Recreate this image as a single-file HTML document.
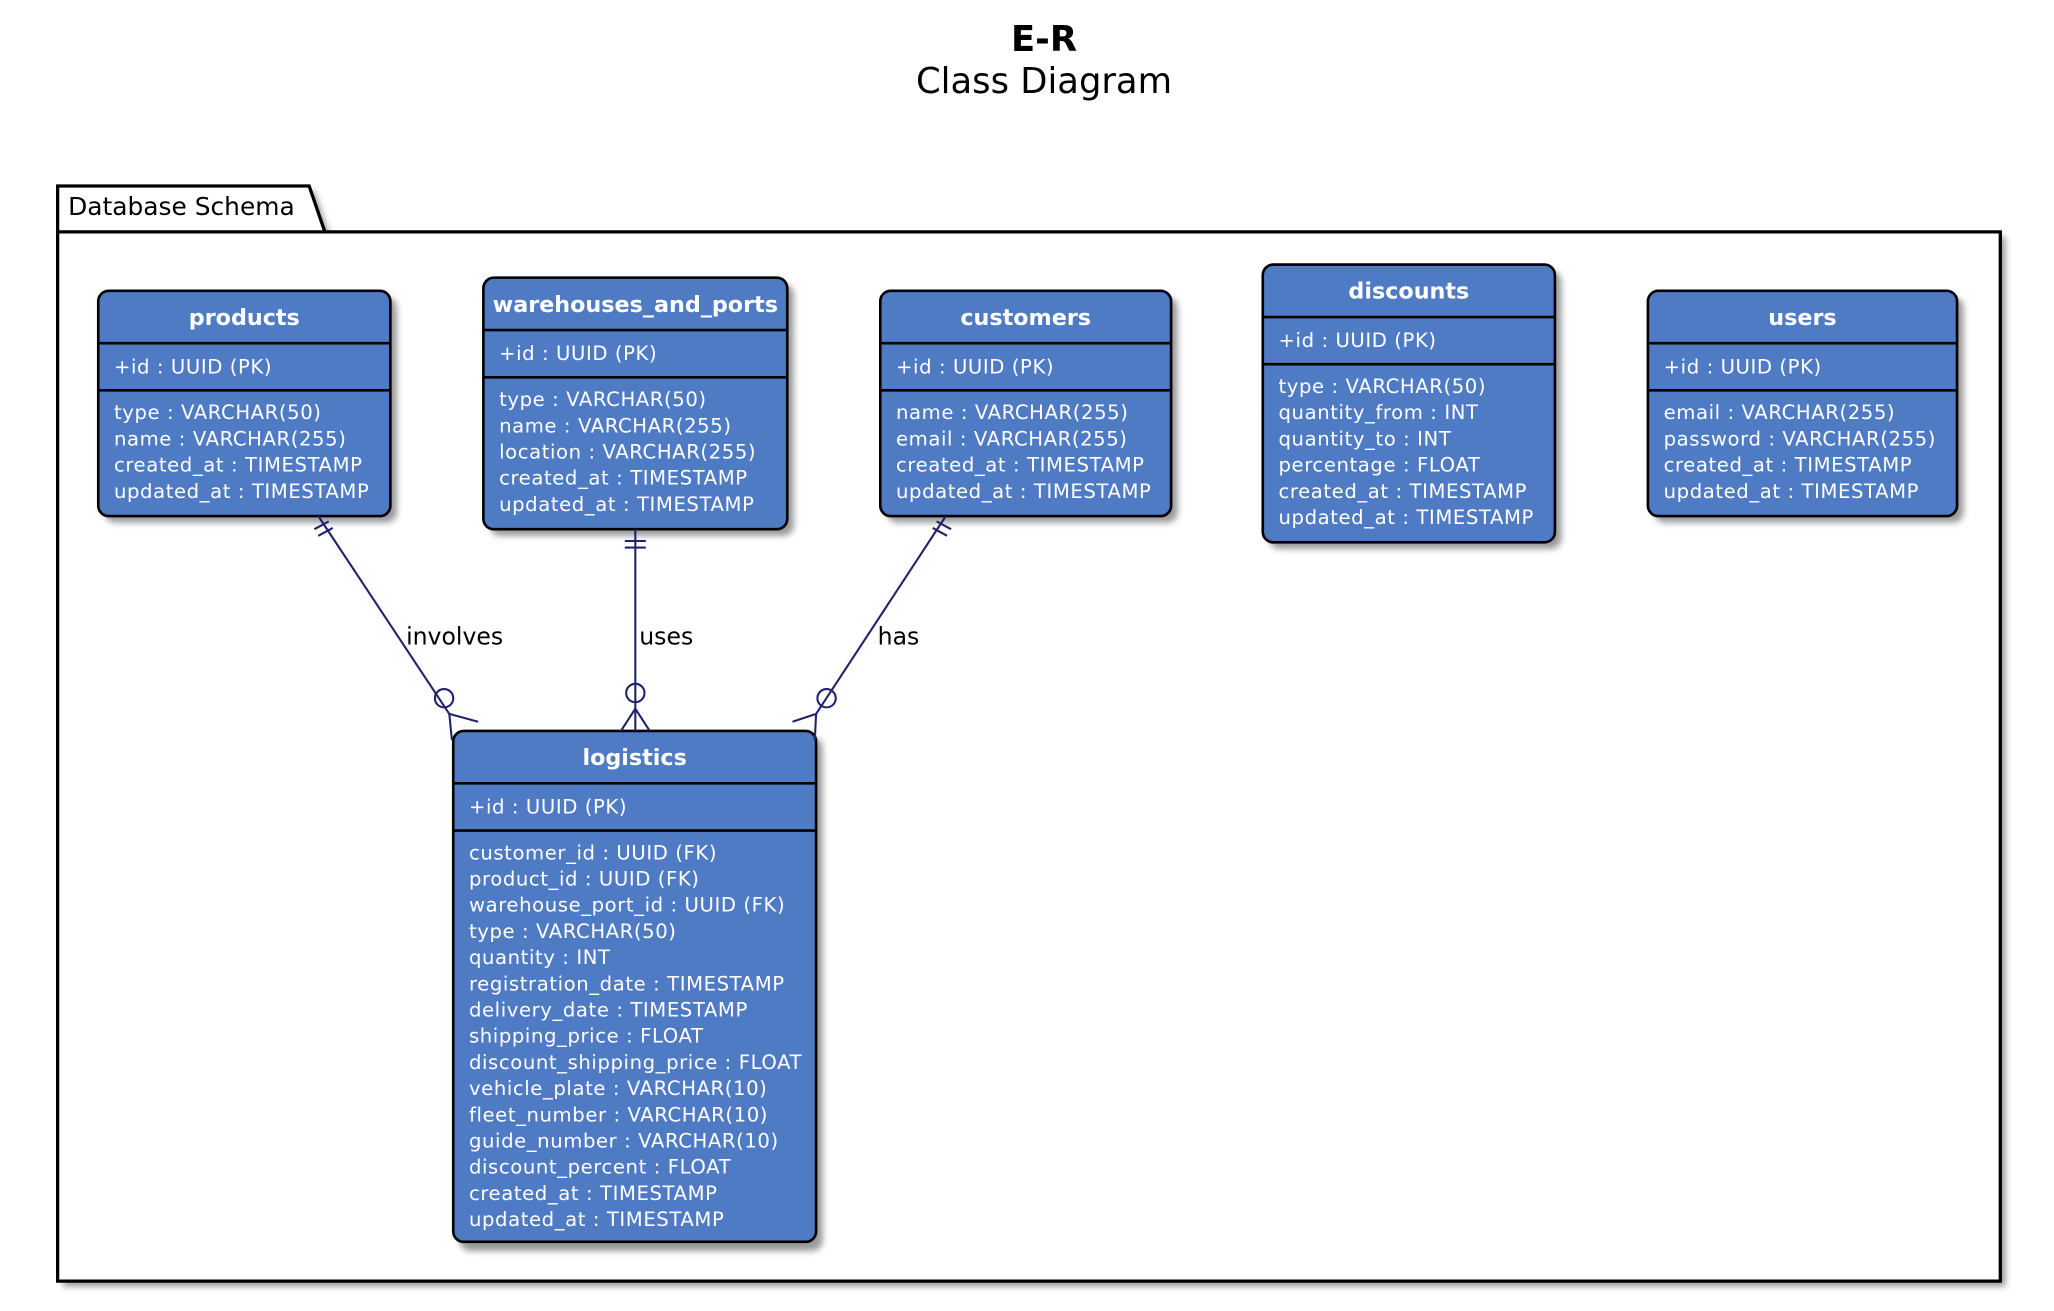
<!DOCTYPE html>
<html><head><meta charset="utf-8"><style>
html,body{margin:0;padding:0;background:#fff;}
svg{display:block;}
text{font-family:"DejaVu Sans","Liberation Sans",sans-serif;}
.t{fill:#fff;font-weight:bold;font-size:17px;text-anchor:middle;}
.a{fill:#fff;font-size:15px;letter-spacing:0.45px;}
.b{fill:#4F7BC5;stroke:#000;stroke-width:2;}
.l{stroke:#000;stroke-width:2;}
.c{stroke:#22226a;stroke-width:1.6;fill:none;}
.lbl{font-size:18px;fill:#000;}
</style></head><body>
<svg width="2054" height="1311" viewBox="0 0 1568 1000.8" preserveAspectRatio="xMinYMin meet" xmlns="http://www.w3.org/2000/svg">
<defs><filter id="sh" x="-10%" y="-10%" width="130%" height="130%"><feGaussianBlur stdDeviation="2.5"/></filter></defs>
<text x="797" y="39" text-anchor="middle" style="font-size:27px;font-weight:bold">E-R</text>
<text x="797" y="71" text-anchor="middle" style="font-size:27px">Class Diagram</text>

<path d="M48 146 L240 146 L252 181 L1531 181 L1531 982 L48 982 Z" fill="#999" filter="url(#sh)"/>
<path d="M44 142 L236 142 L248 177 L1527 177 L1527 978 L44 978 Z" fill="#fff" stroke="#000" stroke-width="2.5"/>
<line x1="44" y1="177" x2="248" y2="177" stroke="#000" stroke-width="2.5"/>
<text x="52" y="164" style="font-size:19px">Database Schema</text>

<rect x="80" y="227" width="223" height="172" rx="8" fill="#999" filter="url(#sh)"/>
<rect class="b" x="75" y="222" width="223" height="172" rx="8"/>
<line class="l" x1="75" y1="262" x2="298" y2="262"/><line class="l" x1="75" y1="298" x2="298" y2="298"/>
<text class="t" x="186.5" y="248">products</text>
<text class="a" x="87" y="285">+id : UUID (PK)</text>
<text class="a" x="87" y="320">type : VARCHAR(50)</text>
<text class="a" x="87" y="340">name : VARCHAR(255)</text>
<text class="a" x="87" y="360">created_at : TIMESTAMP</text>
<text class="a" x="87" y="380">updated_at : TIMESTAMP</text>

<rect x="374" y="217" width="232" height="192" rx="8" fill="#999" filter="url(#sh)"/>
<rect class="b" x="369" y="212" width="232" height="192" rx="8"/>
<line class="l" x1="369" y1="252" x2="601" y2="252"/><line class="l" x1="369" y1="288" x2="601" y2="288"/>
<text class="t" x="485" y="238">warehouses_and_ports</text>
<text class="a" x="381" y="275">+id : UUID (PK)</text>
<text class="a" x="381" y="310">type : VARCHAR(50)</text>
<text class="a" x="381" y="330">name : VARCHAR(255)</text>
<text class="a" x="381" y="350">location : VARCHAR(255)</text>
<text class="a" x="381" y="370">created_at : TIMESTAMP</text>
<text class="a" x="381" y="390">updated_at : TIMESTAMP</text>

<rect x="677" y="227" width="222" height="172" rx="8" fill="#999" filter="url(#sh)"/>
<rect class="b" x="672" y="222" width="222" height="172" rx="8"/>
<line class="l" x1="672" y1="262" x2="894" y2="262"/><line class="l" x1="672" y1="298" x2="894" y2="298"/>
<text class="t" x="783" y="248">customers</text>
<text class="a" x="684" y="285">+id : UUID (PK)</text>
<text class="a" x="684" y="320">name : VARCHAR(255)</text>
<text class="a" x="684" y="340">email : VARCHAR(255)</text>
<text class="a" x="684" y="360">created_at : TIMESTAMP</text>
<text class="a" x="684" y="380">updated_at : TIMESTAMP</text>

<rect x="969" y="207" width="223" height="212" rx="8" fill="#999" filter="url(#sh)"/>
<rect class="b" x="964" y="202" width="223" height="212" rx="8"/>
<line class="l" x1="964" y1="242" x2="1187" y2="242"/><line class="l" x1="964" y1="278" x2="1187" y2="278"/>
<text class="t" x="1075.5" y="228">discounts</text>
<text class="a" x="976" y="265">+id : UUID (PK)</text>
<text class="a" x="976" y="300">type : VARCHAR(50)</text>
<text class="a" x="976" y="320">quantity_from : INT</text>
<text class="a" x="976" y="340">quantity_to : INT</text>
<text class="a" x="976" y="360">percentage : FLOAT</text>
<text class="a" x="976" y="380">created_at : TIMESTAMP</text>
<text class="a" x="976" y="400">updated_at : TIMESTAMP</text>

<rect x="1263" y="227" width="236" height="172" rx="8" fill="#999" filter="url(#sh)"/>
<rect class="b" x="1258" y="222" width="236" height="172" rx="8"/>
<line class="l" x1="1258" y1="262" x2="1494" y2="262"/><line class="l" x1="1258" y1="298" x2="1494" y2="298"/>
<text class="t" x="1376" y="248">users</text>
<text class="a" x="1270" y="285">+id : UUID (PK)</text>
<text class="a" x="1270" y="320">email : VARCHAR(255)</text>
<text class="a" x="1270" y="340">password : VARCHAR(255)</text>
<text class="a" x="1270" y="360">created_at : TIMESTAMP</text>
<text class="a" x="1270" y="380">updated_at : TIMESTAMP</text>

<rect x="351" y="563" width="277" height="392" rx="8" fill="#999" filter="url(#sh)"/>
<rect class="b" x="346" y="558" width="277" height="390" rx="8"/>
<line class="l" x1="346" y1="598" x2="623" y2="598"/><line class="l" x1="346" y1="634" x2="623" y2="634"/>
<text class="t" x="484.5" y="584">logistics</text>
<text class="a" x="358" y="621">+id : UUID (PK)</text>
<text class="a" x="358" y="656">customer_id : UUID (FK)</text>
<text class="a" x="358" y="676">product_id : UUID (FK)</text>
<text class="a" x="358" y="696">warehouse_port_id : UUID (FK)</text>
<text class="a" x="358" y="716">type : VARCHAR(50)</text>
<text class="a" x="358" y="736">quantity : INT</text>
<text class="a" x="358" y="756">registration_date : TIMESTAMP</text>
<text class="a" x="358" y="776">delivery_date : TIMESTAMP</text>
<text class="a" x="358" y="796">shipping_price : FLOAT</text>
<text class="a" x="358" y="816">discount_shipping_price : FLOAT</text>
<text class="a" x="358" y="836">vehicle_plate : VARCHAR(10)</text>
<text class="a" x="358" y="856">fleet_number : VARCHAR(10)</text>
<text class="a" x="358" y="876">guide_number : VARCHAR(10)</text>
<text class="a" x="358" y="896">discount_percent : FLOAT</text>
<text class="a" x="358" y="916">created_at : TIMESTAMP</text>
<text class="a" x="358" y="936">updated_at : TIMESTAMP</text>

<path class="c" d="M243 394 L343 545"/>
<path class="c" d="M240 404 L251 398 M243 409 L254 403"/>
<circle class="c" cx="339" cy="533" r="7"/>
<path class="c" d="M343 545 L345 565 M343 545 L365 551"/>
<text class="lbl" x="310" y="492">involves</text>
<path class="c" d="M485 404 L485 558"/>
<path class="c" d="M477 413 L493 413 M477 418 L493 418"/>
<circle class="c" cx="485" cy="529" r="7"/>
<path class="c" d="M485 541 L474 558 M485 541 L496 558"/>
<text class="lbl" x="488" y="492">uses</text>
<path class="c" d="M722 394 L623 545"/>
<path class="c" d="M715 398 L726 404 M712 403 L723 409"/>
<circle class="c" cx="631" cy="533" r="7"/>
<path class="c" d="M623 545 L622 565 M623 545 L605 551"/>
<text class="lbl" x="670" y="492">has</text>
</svg>
</body></html>
